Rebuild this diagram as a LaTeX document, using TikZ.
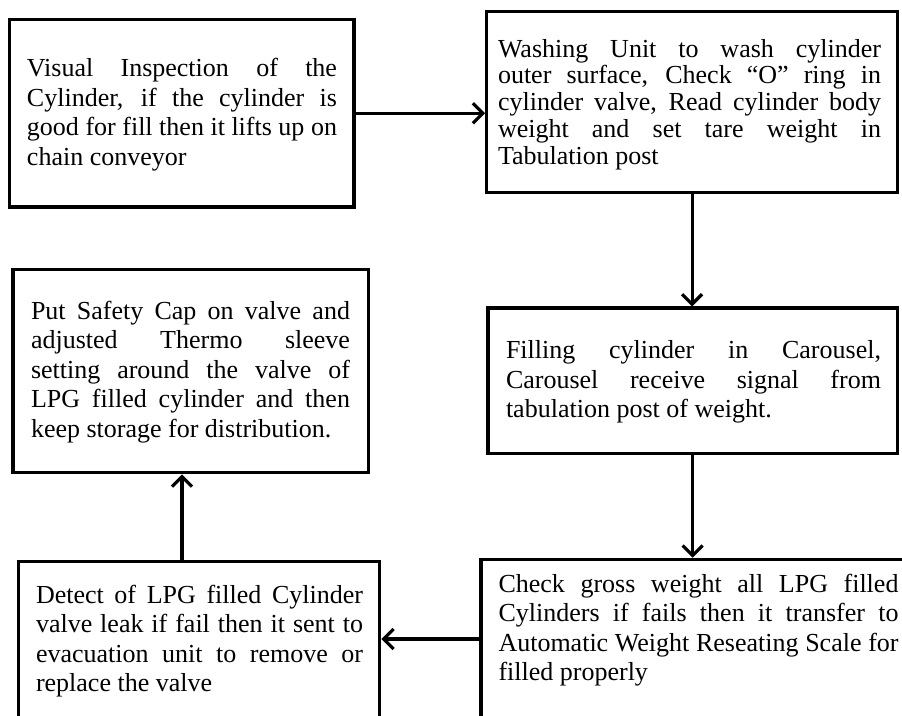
\documentclass[tikz,border=0pt]{standalone}
\usepackage{fontspec}
\setmainfont{Liberation Serif}
\usetikzlibrary{arrows.meta}
\hbadness=10000
\begin{document}
\begin{tikzpicture}[x=1pt,y=-1pt,
  box/.style={draw, line width=3.2pt, rectangle, inner sep=0pt, line join=miter},
  txt/.style={inner sep=0pt, align=justify, font=\fontsize{26}{29.5}\selectfont},
  arr/.style={line width=3.2pt, -{Straight Barb[length=10pt,width=20pt]}}]
\useasboundingbox (0,0) rectangle (902,715);
\clip (0,0) rectangle (902,715);
% boxes
\node[box, minimum width=344.5pt, minimum height=187.5pt] (b1) at (181.75,113.25) {};
\node[box, minimum width=410.8pt, minimum height=181.5pt] (b2) at (692.1,102) {};
\node[box, minimum width=409.3pt, minimum height=145.2pt] (b3) at (692.6,380.6) {};
\node[box, minimum width=439pt, minimum height=159.4pt] (b4) at (700.5,639) {};
\node[box, minimum width=361pt, minimum height=180pt] (b5) at (199.2,651.3) {};
\node[box, minimum width=355.7pt, minimum height=203.4pt] (b6) at (190.8,371) {};
% texts
\node[txt, text width=310pt] (t1) at (182,114.5) {Visual Inspection of the\linebreak Cylinder, if the cylinder is\linebreak good for fill then it lifts up on\linebreak chain conveyor};
\node[txt, text width=383pt, font=\fontsize{26}{26.7}\selectfont] (t2) at (689.5,104.4) {Washing Unit to wash cylinder\linebreak outer surface, Check “O” ring in\linebreak cylinder valve, Read cylinder body\linebreak weight and set tare weight in\linebreak Tabulation post};
\node[txt, text width=375pt] (t3) at (693.5,382) {Filling cylinder in Carousel,\linebreak Carousel receive signal from\linebreak tabulation post of weight.};
\node[txt, text width=400pt] (t4) at (698.5,630) {Check gross weight all LPG filled\linebreak Cylinders if fails then it transfer to\linebreak Automatic Weight Reseating Scale for\linebreak filled properly};
\node[txt, text width=327pt] (t5) at (199.5,641) {Detect of LPG filled Cylinder\linebreak valve leak if fail then it sent to\linebreak evacuation unit to remove or\linebreak replace the valve};
\node[txt, text width=319pt] (t6) at (190.5,372) {Put Safety Cap on valve and\linebreak adjusted Thermo sleeve\linebreak setting around the valve of\linebreak LPG filled cylinder and then\linebreak keep storage for distribution.};
% connectors
\draw[arr] (b1.east) -- (b1.east -| b2.west);
\draw[arr] (b2.south) -- (b2.south |- b3.north);
\draw[arr] (b3.south) -- (b3.south |- b4.north);
\draw[arr] (b4.west) -- (b4.west -| b5.east);
\coordinate (c6) at (182,0);
\draw[arr] (b5.north -| c6) -- (b6.south -| c6);
\end{tikzpicture}
\end{document}
